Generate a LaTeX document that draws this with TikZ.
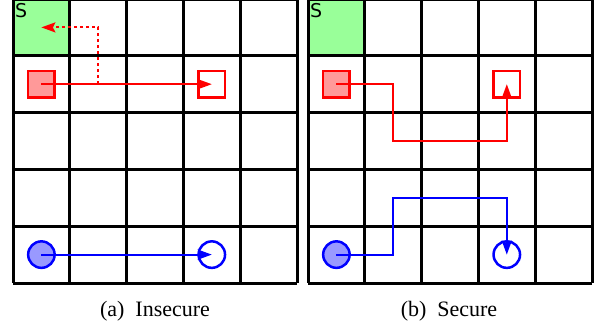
\documentclass[tikz,border=0pt]{standalone}
\usepackage{fontspec}
\setmainfont{Liberation Serif}
\newfontfamily\sfont{DejaVu Sans}
\usetikzlibrary{arrows.meta}
\definecolor{startgreen}{RGB}{153,255,153}
\definecolor{lightred}{RGB}{255,153,153}
\definecolor{lightblue}{RGB}{153,153,255}
\tikzset{
  gridline/.style={line width=3pt, black},
  redsq/.style={draw=red, line width=2.5pt, minimum size=26.5pt, inner sep=0pt, fill=lightred},
  redsqopen/.style={draw=red, line width=2.5pt, minimum size=26.5pt, inner sep=0pt, fill=white},
  bluec/.style={circle, draw=blue, line width=2.5pt, minimum size=26.5pt, inner sep=0pt, fill=lightblue},
  bluecopen/.style={circle, draw=blue, line width=2.5pt, minimum size=26.5pt, inner sep=0pt, fill=white},
  tip/.style={-{Stealth[length=14pt,width=10pt,inset=2.5pt]}},
  redpath/.style={red, line width=2pt, tip},
  reddot/.style={red, line width=2pt, dash pattern=on 3pt off 3pt, tip},
  bluepath/.style={blue, line width=2pt, tip},
  caption/.style={font=\fontsize{22pt}{25pt}\selectfont, inner sep=0pt},
  slabel/.style={font=\sfont\fontsize{19pt}{20pt}\selectfont, inner sep=0pt, anchor=north west}
}
\begin{document}
\begin{tikzpicture}[x=1pt,y=-1pt]
\useasboundingbox (0,0) rectangle (599,327);
\def\c{56.8}
% ---------- left grid ----------
\fill[startgreen] (13,-1) rectangle ++(\c,\c);
\foreach \i in {0,...,5} {
  \draw[gridline] ({13+\i*\c},-1) -- ({13+\i*\c},{-1+5*\c});
  \draw[gridline] (13,{-1+\i*\c}) -- ({13+5*\c},{-1+\i*\c});
}
\node[slabel] (sa) at (15,3.5) {S};
% ---------- right grid ----------
\fill[startgreen] (308,-1) rectangle ++(\c,\c);
\foreach \i in {0,...,5} {
  \draw[gridline] ({308+\i*\c},-1) -- ({308+\i*\c},{-1+5*\c});
  \draw[gridline] (308,{-1+\i*\c}) -- ({308+5*\c},{-1+\i*\c});
}
\node[slabel] (sb) at (310,3.5) {S};

% ---------- left markers ----------
\node[redsq] (rsa) at ({13+0.5*\c},{-1+1.5*\c}) {};
\node[redsqopen] (rta) at ({13+3.5*\c},{-1+1.5*\c}) {};
\node[bluec] (bsa) at ({13+0.5*\c},{-1+4.5*\c}) {};
\node[bluecopen] (bta) at ({13+3.5*\c},{-1+4.5*\c}) {};
\coordinate (da1) at ({13+1.5*\c},{-1+1.5*\c});
\coordinate (da2) at ({13+1.5*\c},{-1+0.5*\c});
\coordinate (da3) at ({13+0.5*\c},{-1+0.5*\c});
\draw[reddot] (da1) -- (da2) -- (da3);
\draw[redpath] (rsa.center) -- (rta.center);
\draw[bluepath] (bsa.center) -- (bta.center);

% ---------- right markers ----------
\node[redsq] (rsb) at ({308+0.5*\c},{-1+1.5*\c}) {};
\node[redsqopen] (rtb) at ({308+3.5*\c},{-1+1.5*\c}) {};
\node[bluec] (bsb) at ({308+0.5*\c},{-1+4.5*\c}) {};
\node[bluecopen] (btb) at ({308+3.5*\c},{-1+4.5*\c}) {};
\coordinate (rb1) at ({308+1.5*\c},{-1+1.5*\c});
\coordinate (rb2) at ({308+1.5*\c},{-1+2.5*\c});
\coordinate (rb3) at ({308+3.5*\c},{-1+2.5*\c});
\draw[redpath] (rsb.center) -- (rb1) -- (rb2) -- (rb3) -- (rtb.center);
\coordinate (bb1) at ({308+1.5*\c},{-1+4.5*\c});
\coordinate (bb2) at ({308+1.5*\c},{-1+3.5*\c});
\coordinate (bb3) at ({308+3.5*\c},{-1+3.5*\c});
\draw[bluepath] (bsb.center) -- (bb1) -- (bb2) -- (bb3) -- (btb.center);

% ---------- captions ----------
\node[caption] (capa) at (155,311) {(a)\hspace{0.5em}Insecure};
\node[caption] (capb) at (449,311) {(b)\hspace{0.5em}Secure};
\end{tikzpicture}
\end{document}
